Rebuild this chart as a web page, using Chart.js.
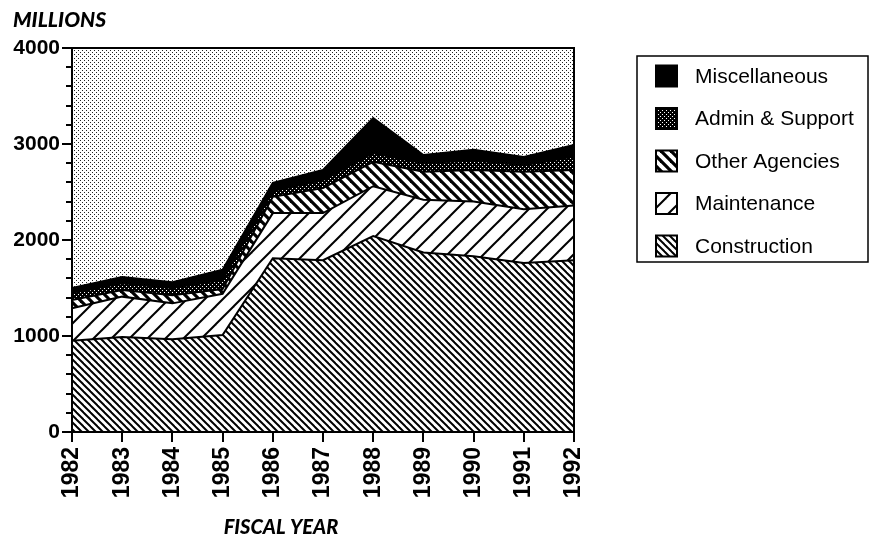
<!DOCTYPE html>
<html lang="en">
<head>
<meta charset="UTF-8">
<title>Spending by Fiscal Year</title>
<script src="https://cdn.jsdelivr.net/npm/chart.js@4.4.0/dist/chart.umd.min.js"></script>
<style>
  html, body { margin: 0; padding: 0; background: #fff; }
</style>
</head>
<body>
<canvas id="chart" width="874" height="543"></canvas>
<script>
// data (millions), each series is its own band in the stack
const years = ['1982', '1983', '1984', '1985', '1986', '1987', '1988', '1989', '1990', '1991', '1992'];
const construction  = [950, 990, 965, 1010, 1810, 1790, 2040, 1870, 1830, 1760, 1790];
const maintenance   = [340, 420, 375, 430, 470, 490, 520, 550, 570, 560, 570];
const otherAgencies = [85, 70, 85, 50, 170, 260, 255, 290, 330, 390, 370];
const adminSupport  = [75, 70, 75, 95, 60, 85, 90, 90, 100, 70, 140];
const miscellaneous = [50, 65, 60, 105, 85, 105, 365, 85, 110, 85, 120];

const yMax = 4000;
const yMinorStep = 200;
const yMajorStep = 1000;

// --- fill patterns ---
function hatch(period, width, dir) {
    const c = document.createElement('canvas');
    c.width = c.height = period;
    const g = c.getContext('2d');
    g.fillStyle = '#fff';
    g.fillRect(0, 0, period, period);
    g.strokeStyle = '#000';
    g.lineWidth = width;
    for (let k = -2; k <= 2; k++) {
        g.beginPath();
        if (dir === 'back') {
            g.moveTo(k * period - period, -period);
            g.lineTo(k * period + 2 * period, 2 * period);
        } else {
            g.moveTo(k * period - period, 2 * period);
            g.lineTo(k * period + 2 * period, -period);
        }
        g.stroke();
    }
    return g.createPattern(c, 'repeat');
}

function dots(bg, fg) {
    const c = document.createElement('canvas');
    c.width = c.height = 4;
    const g = c.getContext('2d');
    g.fillStyle = bg;
    g.fillRect(0, 0, 4, 4);
    g.fillStyle = fg;
    g.fillRect(0, 0, 1, 1);
    g.fillRect(2, 2, 1, 1);
    return g.createPattern(c, 'repeat');
}

const stipple = dots('#fff', '#222');

const datasets = [
    { label: 'Construction', data: construction, backgroundColor: hatch(7, 2, 'back'), fill: 'origin' },
    { label: 'Maintenance', data: maintenance, backgroundColor: hatch(18, 2, 'fwd'), fill: '-1' },
    { label: 'Other Agencies', data: otherAgencies, backgroundColor: hatch(10, 3.2, 'back'), fill: '-1' },
    { label: 'Admin & Support', data: adminSupport, backgroundColor: dots('#000', '#fff'), fill: '-1' },
    { label: 'Miscellaneous', data: miscellaneous, backgroundColor: '#000', fill: '-1' }
].map(d => Object.assign(d, {
    borderColor: '#000',
    borderWidth: 2,
    pointRadius: 0,
    tension: 0
}));

// stippled plot background, frame, y tick marks, titles and the boxed legend
const decor = {
    id: 'decor',
    beforeDatasetsDraw(chart) {
        const { ctx, chartArea: a } = chart;
        ctx.save();
        ctx.fillStyle = stipple;
        ctx.fillRect(a.left, a.top, a.right - a.left, a.bottom - a.top);
        ctx.restore();
    },
    afterDraw(chart) {
        const { ctx, chartArea: a } = chart;
        ctx.save();
        ctx.strokeStyle = '#000';
        ctx.lineWidth = 2;
        ctx.strokeRect(a.left, a.top, a.right - a.left, a.bottom - a.top);

        // y ticks: long at the labelled values, short in between
        const y = chart.scales.y;
        y.ticks.forEach(t => {
            const py = Math.round(y.getPixelForValue(t.value));
            const len = t.value % yMajorStep === 0 ? 10 : 6;
            ctx.beginPath();
            ctx.moveTo(a.left - len, py);
            ctx.lineTo(a.left, py);
            ctx.stroke();
        });

        // axis titles
        ctx.fillStyle = '#000';
        ctx.textBaseline = 'middle';
        ctx.textAlign = 'left';
        ctx.font = 'italic 900 21px Lato';
        ctx.fillText('MILLIONS', 13, 20);
        ctx.textAlign = 'center';
        ctx.font = 'italic 900 20px Lato';
        ctx.fillText('FISCAL YEAR', 281, 528);

        // legend
        const lx = 637, ly = 56, lw = 231, lh = 206;
        ctx.lineWidth = 1.5;
        ctx.strokeRect(lx, ly, lw, lh);
        const items = chart.data.datasets.slice().reverse();
        ctx.font = '21px "Liberation Sans"';
        ctx.textAlign = 'left';
        items.forEach((ds, i) => {
            const cy = 76 + i * 42.5;
            const s = 21;
            ctx.fillStyle = ds.backgroundColor;
            ctx.fillRect(656, cy - s / 2, s, s);
            ctx.lineWidth = 2;
            ctx.strokeRect(656, cy - s / 2, s, s);
            ctx.fillStyle = '#000';
            ctx.fillText(ds.label, 695, cy + 1);
        });
        ctx.restore();
    }
};

new Chart(document.getElementById('chart'), {
    type: 'line',
    data: { labels: years, datasets: datasets },
    options: {
        responsive: false,
        animation: false,
        layout: { padding: { top: 48, right: 300, left: 0, bottom: 0 } },
        plugins: {
            legend: { display: false },
            tooltip: { enabled: false }
        },
        scales: {
            x: {
                offset: false,
                grid: { display: true, drawOnChartArea: false, drawTicks: true, tickLength: 10, color: '#000', lineWidth: 2 },
                border: { display: false },
                ticks: {
                    color: '#000',
                    font: { family: 'Liberation Sans', size: 23, weight: 'bold' },
                    minRotation: 90,
                    maxRotation: 90,
                    padding: 5,
                    autoSkip: false
                },
                afterFit(scale) { scale.height = 111; }
            },
            y: {
                stacked: true,
                min: 0,
                max: yMax,
                grid: { display: false, drawTicks: false, tickLength: 0 },
                border: { display: false },
                ticks: {
                    stepSize: yMinorStep,
                    autoSkip: false,
                    color: '#000',
                    padding: 12,
                    font: { family: 'Liberation Sans', size: 21, weight: 'bold' },
                    callback: v => (v % yMajorStep === 0 ? String(v) : '')
                },
                afterFit(scale) { scale.width = 72; }
            }
        }
    },
    plugins: [decor]
});
</script>
</body>
</html>
